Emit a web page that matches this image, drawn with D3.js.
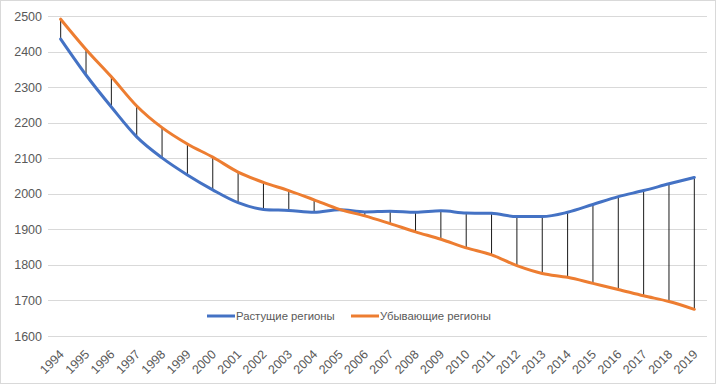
<!DOCTYPE html>
<html>
<head>
<meta charset="utf-8">
<script src="https://cdn.jsdelivr.net/npm/d3@7"></script>
<style>
  body { margin: 0; background: #fff; }
  svg { display: block; }
</style>
</head>
<body>
<svg id="chart" width="716" height="384"></svg>
<script>
// Data
const years = ["1994","1995","1996","1997","1998","1999","2000","2001","2002","2003","2004","2005","2006",
    "2007","2008","2009","2010","2011","2012","2013","2014","2015","2016","2017","2018","2019"];
const growing = [2435, 2334, 2244, 2160, 2101, 2053, 2011, 1975, 1956, 1953, 1948, 1955, 1949,
    1951, 1948, 1952, 1946, 1945, 1936, 1936, 1948, 1970, 1992, 2009, 2028, 2046];
const declining = [2491, 2406, 2329, 2247, 2186, 2140, 2103, 2061, 2032, 2009, 1983, 1956, 1938,
    1916, 1893, 1872, 1848, 1828, 1798, 1776, 1765, 1748, 1731, 1713, 1697, 1675];
const yTicks = [1600, 1700, 1800, 1900, 2000, 2100, 2200, 2300, 2400, 2500];
const seriesNames = ["Растущие регионы", "Убывающие регионы"];
const seriesColors = ["#4472C4", "#ED7D31"];

const font = "Liberation Sans, Arial, sans-serif";
const svg = d3.select("#chart");

// Outer border
svg.append("rect")
    .attr("x", 0.5).attr("y", 0.5)
    .attr("width", 715).attr("height", 383)
    .attr("fill", "#fff")
    .attr("stroke", "#d9d9d9");

const plotLeft = 48, plotRight = 707, plotTop = 16, plotBottom = 336;

const x = d3.scaleBand()
    .domain(years)
    .range([plotLeft, plotRight]);
const cx = d => x(d) + x.bandwidth() / 2;

const y = d3.scaleLinear()
    .domain([1600, 2500])
    .range([plotBottom, plotTop]);

// Gridlines
svg.append("g")
    .selectAll("line")
    .data(yTicks)
    .enter()
    .append("line")
    .attr("x1", plotLeft)
    .attr("x2", plotRight)
    .attr("y1", d => Math.round(y(d)) + 0.5)
    .attr("y2", d => Math.round(y(d)) + 0.5)
    .attr("stroke", "#d9d9d9")
    .attr("stroke-width", 1);

// Y axis labels
const yAxis = svg.append("g")
    .attr("transform", `translate(${plotLeft - 6},0)`)
    .call(d3.axisLeft(y).tickValues(yTicks).tickSize(0).tickPadding(0).tickFormat(d3.format("d")));
yAxis.select(".domain").remove();
yAxis.selectAll("text")
    .attr("font-family", font)
    .style("font-size", "12.5px")
    .attr("fill", "#595959");

// X axis labels
const xAxis = svg.append("g")
    .attr("transform", `translate(0,${plotBottom})`)
    .call(d3.axisBottom(x).tickSize(0).tickPadding(0));
xAxis.select(".domain").remove();
xAxis.selectAll("text")
    .attr("font-family", font)
    .style("font-size", "12.5px")
    .attr("fill", "#595959")
    .attr("text-anchor", "end")
    .attr("dy", "0.35em")
    .attr("transform", "translate(1,16) rotate(-45)");

// High-low lines
svg.append("g")
    .selectAll("line")
    .data(years)
    .enter()
    .append("line")
    .attr("x1", d => cx(d))
    .attr("x2", d => cx(d))
    .attr("y1", (d, i) => y(growing[i]))
    .attr("y2", (d, i) => y(declining[i]))
    .attr("stroke", "#000")
    .attr("stroke-width", 0.9);

// Series lines
const line = d3.line()
    .x(d => cx(d.year))
    .y(d => y(d.v))
    .curve(d3.curveMonotoneX);

[growing, declining].forEach((vals, k) => {
    svg.append("path")
        .datum(years.map((yr, i) => ({ year: yr, v: vals[i] })))
        .attr("fill", "none")
        .attr("stroke", seriesColors[k])
        .attr("stroke-width", 3)
        .attr("stroke-linejoin", "round")
        .attr("stroke-linecap", "round")
        .attr("d", line);
});

// Legend
const legendX = [207, 351];
seriesNames.forEach((name, k) => {
    const g = svg.append("g").attr("transform", `translate(${legendX[k]},316)`);
    g.append("line")
        .attr("x1", 0).attr("x2", 28)
        .attr("y1", 0).attr("y2", 0)
        .attr("stroke", seriesColors[k])
        .attr("stroke-width", 3);
    g.append("text")
        .attr("x", 29)
        .attr("y", 0)
        .attr("dy", "0.35em")
        .attr("font-family", font)
        .style("font-size", "11.3px")
        .attr("fill", "#595959")
        .text(name);
});
</script>
</body>
</html>
